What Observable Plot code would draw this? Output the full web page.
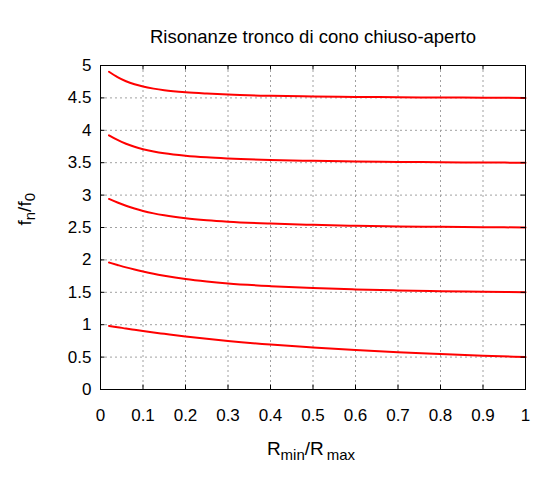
<!DOCTYPE html>
<html><head><meta charset="utf-8">
<script src="https://cdn.jsdelivr.net/npm/d3@7"></script>
<script src="https://cdn.jsdelivr.net/npm/@observablehq/plot@0.6"></script>
<style>
html,body{margin:0;padding:0;background:#fff;}
#chart{width:558px;height:478px;}
svg{display:block;}
</style></head><body><div id="chart"></div>
<script>
const title = "Risonanze tronco di cono chiuso-aperto";
const ratio = [0.02, 0.04, 0.06, 0.08, 0.1, 0.125, 0.15, 0.2, 0.25, 0.3, 0.4, 0.5, 0.6, 0.7, 0.8, 0.9, 1.0];
const mode1 = [0.980, 0.962, 0.941, 0.922, 0.903, 0.880, 0.859, 0.818, 0.782, 0.749, 0.694, 0.650, 0.609, 0.575, 0.547, 0.522, 0.500];
const mode2 = [1.960, 1.922, 1.885, 1.851, 1.820, 1.785, 1.755, 1.704, 1.666, 1.636, 1.595, 1.566, 1.545, 1.529, 1.517, 1.508, 1.500];
const mode3 = [2.941, 2.885, 2.835, 2.793, 2.756, 2.718, 2.688, 2.643, 2.612, 2.589, 2.560, 2.541, 2.527, 2.517, 2.510, 2.505, 2.500];
const mode4 = [3.922, 3.851, 3.793, 3.746, 3.709, 3.674, 3.646, 3.608, 3.583, 3.566, 3.543, 3.529, 3.519, 3.512, 3.507, 3.503, 3.500];
const mode5 = [4.903, 4.821, 4.757, 4.710, 4.675, 4.643, 4.618, 4.586, 4.566, 4.551, 4.533, 4.522, 4.515, 4.510, 4.506, 4.503, 4.500];
const xTicks = [0, 0.1, 0.2, 0.3, 0.4, 0.5, 0.6, 0.7, 0.8, 0.9, 1];
const xTickLabels = ["0", "0.1", "0.2", "0.3", "0.4", "0.5", "0.6", "0.7", "0.8", "0.9", "1"];
const yTicks = [0, 0.5, 1, 1.5, 2, 2.5, 3, 3.5, 4, 4.5, 5];
const yTickLabels = ["0", "0.5", "1", "1.5", "2", "2.5", "3", "3.5", "4", "4.5", "5"];

const series = [mode1, mode2, mode3, mode4, mode5];
const rows = series.flatMap((vals, i) => vals.map((v, j) => ({r: ratio[j], f: v, n: i + 1})));

const W = 558, H = 478, mL = 100, mR = 33, mT = 65, mB = 89;
const fw = W - mL - mR, fh = H - mT - mB;
const tk = 4.5;
const font = "'Liberation Sans', Arial, Helvetica, sans-serif";

const plot = Plot.plot({
  width: W, height: H,
  marginLeft: mL, marginRight: mR, marginTop: mT, marginBottom: mB,
  style: {fontFamily: font, background: "white", color: "black", overflow: "visible"},
  x: {domain: [0, 1]},
  y: {domain: [0, 5]},
  marks: [
    Plot.gridX(xTicks, {stroke: "#a0a0a0", strokeOpacity: 1, strokeDasharray: "2,3"}),
    Plot.gridY(yTicks, {stroke: "#a0a0a0", strokeOpacity: 1, strokeDasharray: "2,3"}),
    Plot.line(rows, {x: "r", y: "f", z: "n", stroke: "#ff0000", strokeWidth: 2, curve: "monotone-x"}),
    Plot.tickX(xTicks, {x: d => d, insetTop: fh - tk, stroke: "black"}),
    Plot.tickX(xTicks, {x: d => d, insetBottom: fh - tk, stroke: "black"}),
    Plot.tickY(yTicks, {y: d => d, insetRight: fw - tk, stroke: "black"}),
    Plot.tickY(yTicks, {y: d => d, insetLeft: fw - tk, stroke: "black"}),
    Plot.frame({stroke: "black"}),
    Plot.axisX(xTicks, {tickSize: 0, tickPadding: 19, fontSize: 17, label: null,
      tickFormat: d => xTickLabels[xTicks.indexOf(d)]}),
    Plot.axisY(yTicks, {tickSize: 0, tickPadding: 9, fontSize: 17, label: null,
      tickFormat: d => yTickLabels[yTicks.indexOf(d)]}),
    Plot.text([title], {frameAnchor: "top", dy: -23, lineAnchor: "bottom", fontSize: 18.5}),
    Plot.text(["Rmin/Rmax"], {frameAnchor: "bottom", dy: 65.5, dx: -2, lineAnchor: "bottom", fontSize: 19, className: "xlab"}),
    Plot.text(["fn/f0"], {frameAnchor: "left", dx: -70, dy: -2, rotate: -90, lineAnchor: "bottom", fontSize: 19, className: "ylab"})
  ]
});
document.getElementById("chart").appendChild(plot);

const NS = "http://www.w3.org/2000/svg";
function rich(sel, parts, sub, shift) {
  const t = plot.querySelector(sel + " text");
  if (!t) return;
  t.textContent = "";
  let low = false;
  for (const p of parts) {
    const ts = document.createElementNS(NS, "tspan");
    ts.textContent = p.t;
    if (p.sub) {
      ts.setAttribute("font-size", sub);
      if (!low) ts.setAttribute("dy", shift);
      low = true;
    } else if (low) {
      ts.setAttribute("dy", -shift);
      low = false;
    }
    if (p.dx) ts.setAttribute("dx", p.dx);
    t.appendChild(ts);
  }
}
rich(".xlab", [{t: "R"}, {t: "min", sub: true}, {t: "/"}, {t: "R"}, {t: "max", sub: true, dx: 3}], 15, 4.5);
rich(".ylab", [{t: "f"}, {t: "n", sub: true}, {t: "/"}, {t: "f"}, {t: "0", sub: true}], 15, 4.5);
</script>
</body></html>
